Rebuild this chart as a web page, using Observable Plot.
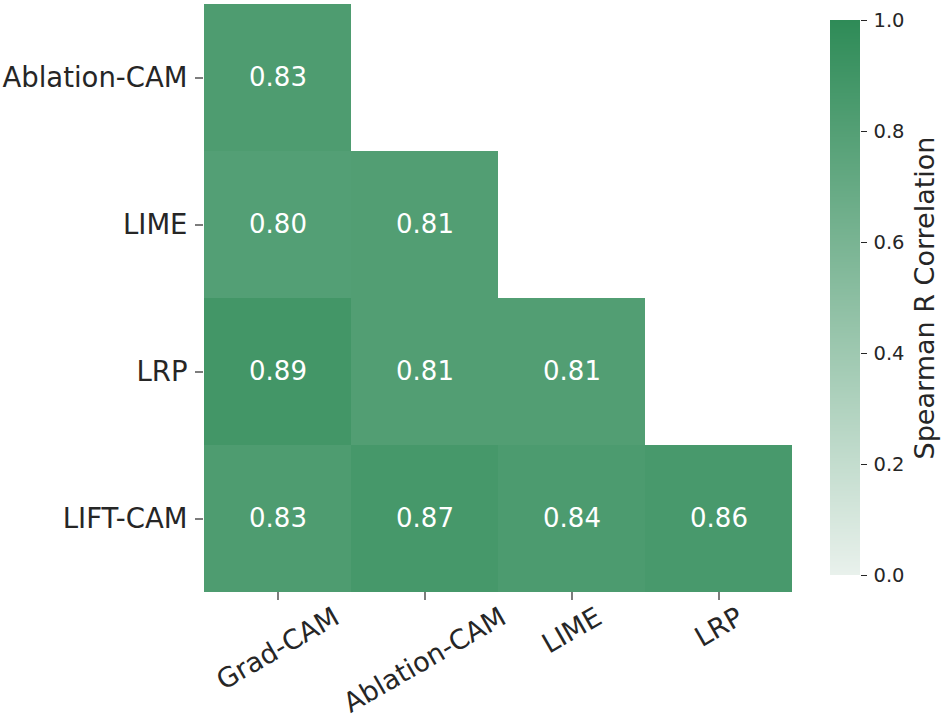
<!DOCTYPE html>
<html>
<head>
<meta charset="utf-8">
<script src="https://cdn.jsdelivr.net/npm/d3@7"></script>
<script src="https://cdn.jsdelivr.net/npm/@observablehq/plot@0.6"></script>
<style>
  html, body { margin: 0; padding: 0; background: #fff; }
  #wrap { position: relative; width: 945px; height: 723px; font-family: "DejaVu Sans", sans-serif; }
  #wrap svg { position: absolute; top: 0; font-family: "DejaVu Sans", sans-serif; background: transparent; }
</style>
</head>
<body>
<div id="wrap"></div>
<script>
const rowLabels = ["Ablation-CAM", "LIME", "LRP", "LIFT-CAM"];
const colLabels = ["Grad-CAM", "Ablation-CAM", "LIME", "LRP"];
const values = [
  [0.83, null, null, null],
  [0.80, 0.81, null, null],
  [0.89, 0.81, 0.81, null],
  [0.83, 0.87, 0.84, 0.86]
];
const colorbarTicks = [0, 0.2, 0.4, 0.6, 0.8, 1.0];
const colorbarLabel = "Spearman R Correlation";

const colorRange = ["#e9f1ec", "#2e8b57"];
const textColor = "#262626";

const data = [];
rowLabels.forEach((r, i) => colLabels.forEach((c, j) => {
  if (values[i][j] != null) data.push({row: r, col: c, value: values[i][j]});
}));

const W = 945, H = 723;
const mL = 203, mR = 152, mT = 3, mB = 131;

const ctx = document.createElement("canvas").getContext("2d");
const xFont = 27;
ctx.font = `${xFont}px "DejaVu Sans"`;
const rad = Math.PI / 6;
const xLabelMarks = colLabels.map(l => {
  const w = ctx.measureText(l).width;
  const h = xFont * 0.98;
  const bh = w * Math.sin(rad) + h * Math.cos(rad);
  return Plot.text([l], {
    x: d => d, frameAnchor: "bottom", dy: 11 + bh / 2,
    rotate: -30, textAnchor: "middle", lineAnchor: "middle",
    fontSize: xFont, fill: textColor
  });
});

const main = Plot.plot({
  width: W, height: H,
  marginLeft: mL, marginRight: mR, marginTop: mT, marginBottom: mB,
  style: {fontFamily: "DejaVu Sans", background: "transparent"},
  x: {domain: colLabels, padding: 0, axis: null},
  y: {domain: rowLabels, padding: 0, axis: null},
  color: {type: "linear", domain: [0, 1], range: colorRange},
  marks: [
    Plot.cell(data, {x: "col", y: "row", fill: "value"}),
    Plot.text(data, {x: "col", y: "row", text: d => d.value.toFixed(2), fill: "white", fontSize: 26}),
    Plot.axisY({tickSize: 8, tickPadding: 8, fontSize: 27.5, stroke: textColor, color: textColor, label: null, strokeWidth: 1.2}),
    Plot.axisX({tickSize: 8, tickFormat: () => "", label: null, stroke: textColor, strokeWidth: 1.2}),
    ...xLabelMarks
  ]
});

const cbLeft = 830;
const nSlices = 555;
const slices = d3.range(nSlices).map(i => i / nSlices);
const cb = Plot.plot({
  width: W - cbLeft, height: H,
  marginLeft: 0, marginRight: 85, marginTop: 20, marginBottom: H - 575,
  style: {fontFamily: "DejaVu Sans", background: "transparent"},
  y: {domain: [0, 1], axis: null},
  color: {type: "linear", domain: [0, 1], range: colorRange},
  marks: [
    Plot.rectY(slices, {y1: d => d, y2: d => Math.min(1, d + 1 / nSlices), fill: d => d + 0.5 / nSlices, shapeRendering: "crispEdges"}),
    Plot.axisY({anchor: "right", ticks: colorbarTicks, tickFormat: d3.format(".1f"), tickSize: 6, tickPadding: 7, fontSize: 19.5, stroke: textColor, color: textColor, label: null}),
    Plot.text([colorbarLabel], {frameAnchor: "right", dx: 65, rotate: -90, textAnchor: "middle", lineAnchor: "middle", fontSize: 27, fill: textColor})
  ]
});
cb.style.left = cbLeft + "px";
main.style.left = "0px";

const wrap = document.getElementById("wrap");
wrap.appendChild(main);
wrap.appendChild(cb);
</script>
</body>
</html>
